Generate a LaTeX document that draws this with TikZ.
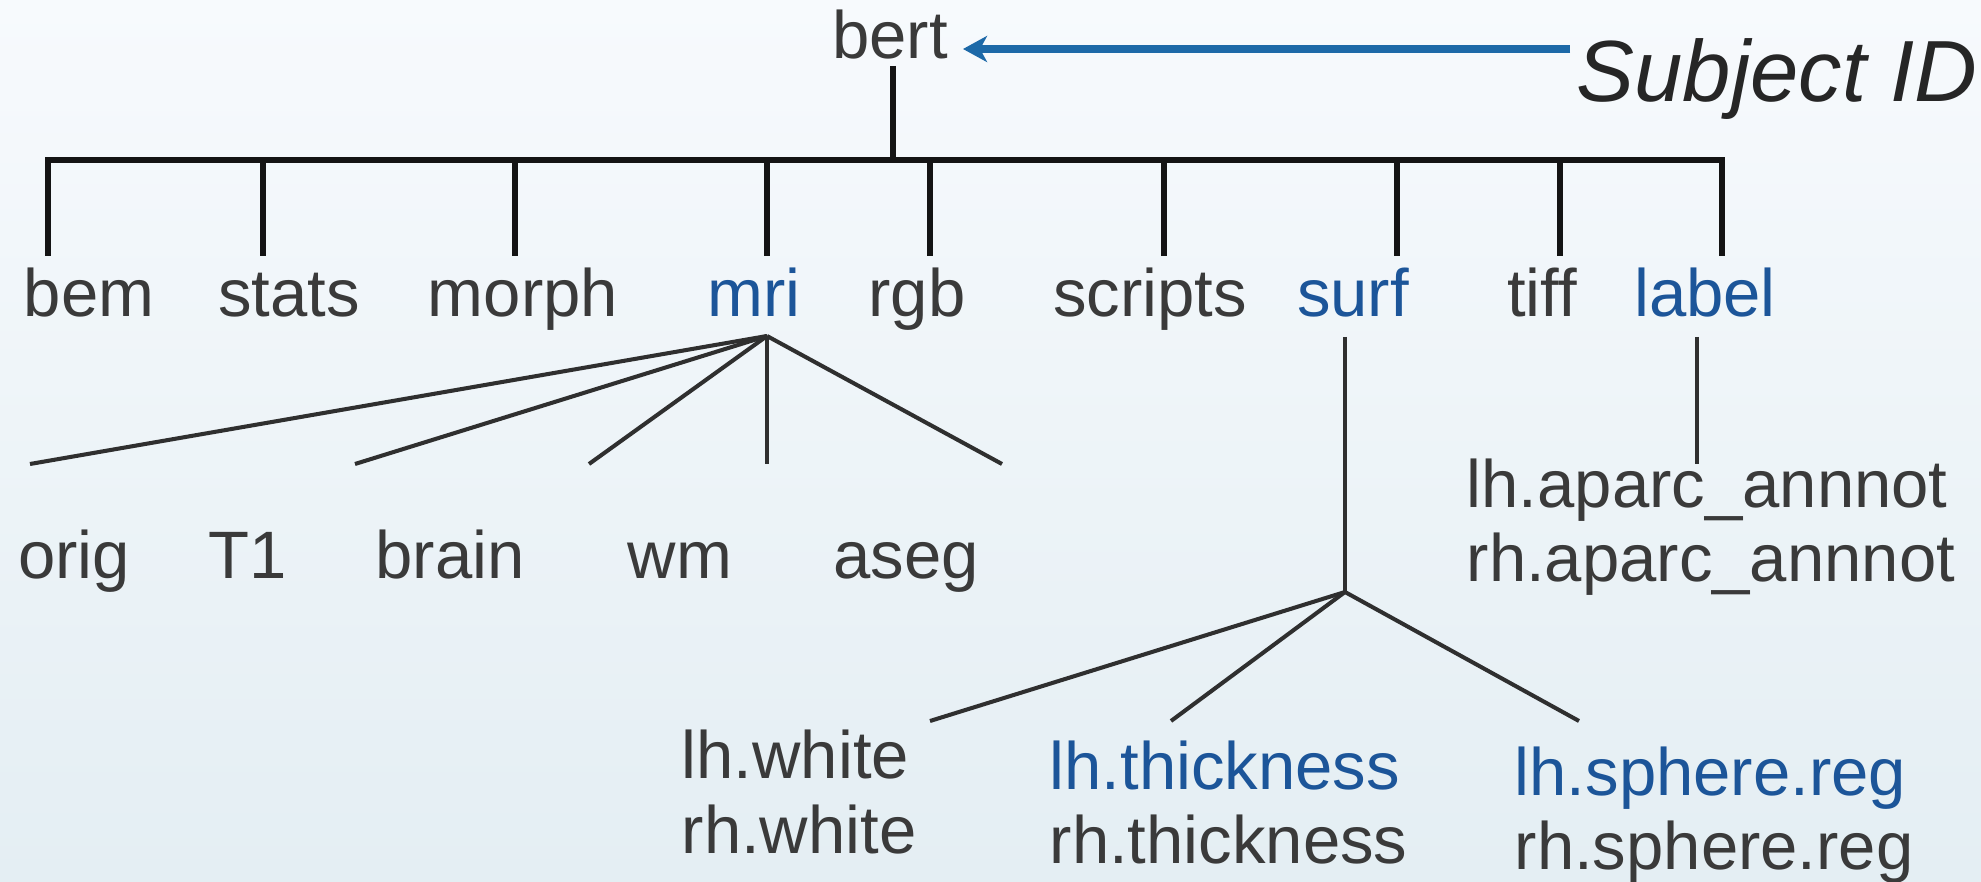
\documentclass[tikz,border=0pt]{standalone}
\usepackage{fontspec}
\setmainfont{Liberation Sans}
\usetikzlibrary{arrows.meta}
\definecolor{txt}{HTML}{3A3A3A}
\definecolor{blu}{HTML}{1C5599}
\definecolor{arr}{HTML}{1D69A8}
\definecolor{ln}{HTML}{2F2F2F}
\definecolor{bgtop}{HTML}{F7FAFD}
\definecolor{bgmid}{HTML}{F4F8FA}
\definecolor{bgbot}{HTML}{E4EEF3}
\begin{document}
\begin{tikzpicture}[x=0.01cm,y=-0.01cm,
  lbl/.style={inner sep=0pt,anchor=base,text=txt,font=\fontsize{19.07pt}{22pt}\selectfont},
  bl/.style={lbl,text=blu},
  bar/.style={line width=1.6pt,draw=black!92,line join=miter},
  sub/.style={line width=1.15pt,draw=ln}]
\shade[top color=bgtop,middle color=bgmid,bottom color=bgbot] (0,0) rectangle (1981,882);
\useasboundingbox (0,0) rectangle (1981,882);
% top
\node[lbl] (bert) at (890,59) {bert};
\node[inner sep=0pt,anchor=base west,text=black!85,font=\fontsize{24.7pt}{28pt}\selectfont\itshape] (subj) at (1576,102) {Subject ID};
\coordinate (arrS) at (1570,49);
\coordinate (arrE) at (963,49);
\draw[arr,line width=2pt,-{Stealth[length=2.4mm,width=2.6mm,inset=0.7mm]}] (arrS) -- (arrE);
% first level
\node[lbl] (bem) at (89,317) {bem};
\node[lbl] (stats) at (289,317) {stats};
\node[lbl] (morph) at (523,317) {morph};
\node[bl] (mri) at (754,317) {mri};
\node[lbl] (rgb) at (917,317) {rgb};
\node[lbl] (scripts) at (1150,317) {scripts};
\node[bl] (surf) at (1353,317) {surf};
\node[lbl] (tiff) at (1542,317) {tiff};
\node[bl] (label) at (1705,317) {label};
\coordinate (bertB) at (893,66);
\coordinate (bertJ) at (893,160);
\draw[bar] (bertB) -- (bertJ);
\foreach \n/\x in {t1/48,t2/263,t3/515,t4/767,t5/930,t6/1164,t7/1397,t8/1560,t9/1722}{
  \coordinate (\n a) at (\x,160);
  \coordinate (\n b) at (\x,256);
}
\draw[bar] (t1b) -- (t1a) -- (t9a) -- (t9b);
\foreach \n in {t2,t3,t4,t5,t6,t7,t8}{\draw[bar] (\n a) -- (\n b);}
% mri subtree
\coordinate (mriA) at (767,336);
\foreach \n/\x in {m1/30,m2/355,m3/589,m4/767,m5/1002}{\coordinate (\n) at (\x,464);}
\foreach \n in {m1,m2,m3,m4,m5}{\draw[sub] (mriA) -- (\n);}
\node[lbl] (orig) at (74,578) {orig};
\node[lbl] (T1) at (248,578) {T1};
\node[lbl] (brain) at (450,578) {brain};
\node[lbl] (wm) at (680,578) {wm};
\node[lbl] (aseg) at (906,578) {aseg};
% surf subtree
\coordinate (surfT) at (1345,337);
\coordinate (surfA) at (1345,592);
\draw[sub] (surfT) -- (surfA);
\coordinate (s1) at (930,721);
\coordinate (s2) at (1171,721);
\coordinate (s3) at (1579,721);
\foreach \n in {s1,s2,s3}{\draw[sub] (surfA) -- (\n);}
\node[lbl,anchor=base west] (lhw) at (681,778) {lh.white};
\node[lbl,anchor=base west] (rhw) at (681,853) {rh.white};
\node[bl,anchor=base west] (lht) at (1049,789) {lh.thickness};
\node[lbl,anchor=base west] (rht) at (1049,863) {rh.thickness};
\node[bl,anchor=base west] (lhs) at (1514,795) {lh.sphere.reg};
\node[lbl,anchor=base west] (rhs) at (1514,869) {rh.sphere.reg};
% label subtree
\coordinate (labT) at (1697,337);
\coordinate (labB) at (1697,464);
\draw[sub] (labT) -- (labB);
\node[lbl,anchor=base west] (lha) at (1466,507) {lh.aparc\_annnot};
\node[lbl,anchor=base west] (rha) at (1466,581) {rh.aparc\_annnot};
\end{tikzpicture}
\end{document}
